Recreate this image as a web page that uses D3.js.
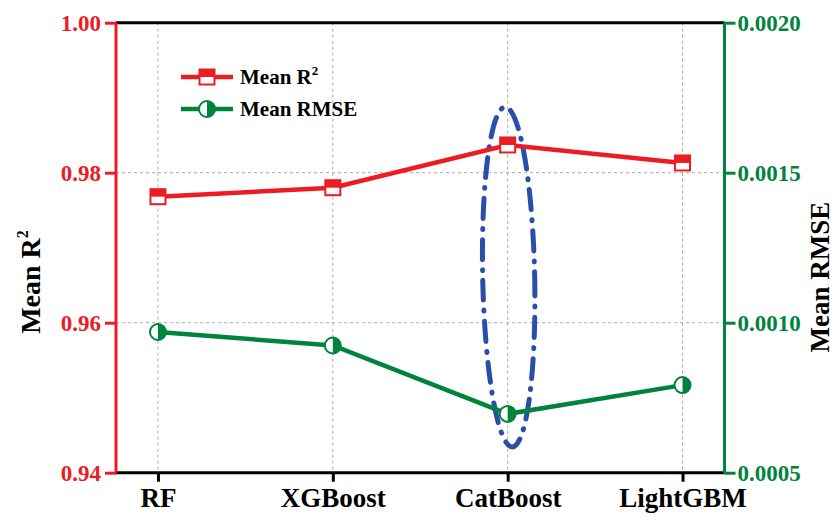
<!DOCTYPE html>
<html><head><meta charset="utf-8">
<script src="https://cdn.jsdelivr.net/npm/d3@7"></script>
<style>body{margin:0;background:#fff}svg{display:block}
svg text{font-family:"Liberation Serif","Times New Roman",Tinos,"DejaVu Serif",serif !important;font-weight:bold}</style>
</head><body>
<svg id="c" width="836" height="521"></svg>
<script>
const categories = ["RF", "XGBoost", "CatBoost", "LightGBM"];
const meanR2 = [0.9768, 0.9780, 0.9837, 0.9813];
const meanRMSE = [0.000969, 0.000924, 0.000696, 0.000792];
const leftTicks = [0.94, 0.96, 0.98, 1.00];
const rightTicks = [0.0005, 0.0010, 0.0015, 0.0020];

const red = "#ec1c24", green = "#00843d", blue = "#2a4fa8";
const FF = '"Liberation Serif","Times New Roman",Tinos,"DejaVu Serif",serif';
const L = 116, R = 724.5, T = 22.7, B = 472.7;
const svg = d3.select("#c");
const x = d3.scalePoint().domain(categories).range([L, R]).padding(0.24);
const yL = d3.scaleLinear().domain([0.94, 1.00]).range([B, T]);
const yR = d3.scaleLinear().domain([0.0005, 0.0020]).range([B, T]);

// grid
const grid = svg.append("g").attr("stroke", "#aaa").attr("stroke-width", 1).attr("stroke-dasharray", "3,3");
categories.forEach(c => grid.append("line").attr("x1", x(c)).attr("x2", x(c)).attr("y1", T).attr("y2", B));
[0.96, 0.98].forEach(v => grid.append("line").attr("x1", L).attr("x2", R).attr("y1", yL(v)).attr("y2", yL(v)));

// frame top
svg.append("line").attr("x1", L).attr("x2", R).attr("y1", T).attr("y2", T).attr("stroke", "#000").attr("stroke-width", 3);

function styleText(sel, size, fill) {
  sel.attr("font-size", size).attr("fill", fill).attr("font-family", FF).attr("font-weight", "bold")
     .style("font-family", FF).style("font-weight", "bold");
}

// x axis
const xa = svg.append("g").attr("transform", `translate(0,${B})`).call(d3.axisBottom(x).tickSize(9).tickPadding(6));
xa.attr("font-family", FF);
xa.select(".domain").attr("d", `M${L},0H${R}`).attr("stroke", "#000").attr("stroke-width", 3);
xa.selectAll(".tick line").attr("stroke", "#000").attr("stroke-width", 3);
styleText(xa.selectAll(".tick text"), 27, "#000");

// left axis
const la = svg.append("g").attr("transform", `translate(${L},0)`).call(d3.axisLeft(yL).tickValues(leftTicks).tickFormat(d3.format(".2f")).tickSize(11).tickPadding(4));
la.attr("font-family", FF);
la.select(".domain").attr("d", `M0,${B}V${T}`).attr("stroke", red).attr("stroke-width", 3);
la.selectAll(".tick line").attr("stroke", red).attr("stroke-width", 3);
styleText(la.selectAll(".tick text"), 23, red);

// right axis
const ra = svg.append("g").attr("transform", `translate(${R},0)`).call(d3.axisRight(yR).tickValues(rightTicks).tickFormat(d3.format(".4f")).tickSize(11).tickPadding(2));
ra.attr("font-family", FF);
ra.select(".domain").attr("d", `M0,${B}V${T}`).attr("stroke", green).attr("stroke-width", 3);
ra.selectAll(".tick line").attr("stroke", green).attr("stroke-width", 3);
styleText(ra.selectAll(".tick text"), 23, green);

// axis titles
const lt = svg.append("text").attr("transform", "translate(40,282) rotate(-90)").attr("text-anchor", "middle");
styleText(lt, 28, "#000");
lt.append("tspan").text("Mean R");
lt.append("tspan").text("2").attr("font-size", 16).attr("dy", -12);
const rt = svg.append("text").attr("transform", "translate(829,277) rotate(-90)").attr("text-anchor", "middle").text("Mean RMSE");
styleText(rt, 27, "#000");

// ellipse (CatBoost highlight)
const ex = x("CatBoost");
svg.append("ellipse").attr("cx", ex + 1).attr("cy", 277).attr("rx", 26).attr("ry", 170)
  .attr("transform", `rotate(-1.2,${ex},277)`)
  .attr("fill", "none").attr("stroke", blue).attr("stroke-width", 5).attr("stroke-linecap", "round")
  .attr("stroke-dasharray", "20,10,1,10");

// lines
const line = (ys, data) => d3.line().x((d, i) => x(categories[i])).y(d => ys(d))(data);
svg.append("path").attr("d", line(yL, meanR2)).attr("fill", "none").attr("stroke", red).attr("stroke-width", 4.5);
svg.append("path").attr("d", line(yR, meanRMSE)).attr("fill", "none").attr("stroke", green).attr("stroke-width", 4.5);

function squareMarker(g, cx, cy) {
  const s = 15;
  g.append("rect").attr("x", cx - s/2).attr("y", cy - s/2).attr("width", s).attr("height", s).attr("fill", "#fff").attr("stroke", red).attr("stroke-width", 2);
  g.append("rect").attr("x", cx - s/2).attr("y", cy - s/2).attr("width", s).attr("height", s/2).attr("fill", red);
}
function circleMarker(g, cx, cy) {
  const r = 8;
  g.append("circle").attr("cx", cx).attr("cy", cy).attr("r", r).attr("fill", "#fff").attr("stroke", green).attr("stroke-width", 2);
  g.append("path").attr("d", `M${cx},${cy - r}A${r},${r} 0 0 1 ${cx},${cy + r}Z`).attr("fill", green);
}
const mk = svg.append("g");
meanR2.forEach((v, i) => squareMarker(mk, x(categories[i]), yL(v)));
meanRMSE.forEach((v, i) => circleMarker(mk, x(categories[i]), yR(v)));

// legend
const lg = svg.append("g");
lg.append("line").attr("x1", 181).attr("x2", 233).attr("y1", 77).attr("y2", 77).attr("stroke", red).attr("stroke-width", 4.5);
squareMarker(lg, 207, 77);
const t1 = lg.append("text").attr("x", 240).attr("y", 84);
styleText(t1, 21, "#000");
t1.append("tspan").text("Mean R");
t1.append("tspan").text("2").attr("font-size", 13).attr("dy", -9);
lg.append("line").attr("x1", 181).attr("x2", 233).attr("y1", 109).attr("y2", 109).attr("stroke", green).attr("stroke-width", 4.5);
circleMarker(lg, 207, 109);
const t2 = lg.append("text").attr("x", 240).attr("y", 116).text("Mean RMSE");
styleText(t2, 21, "#000");
</script>
</body></html>
